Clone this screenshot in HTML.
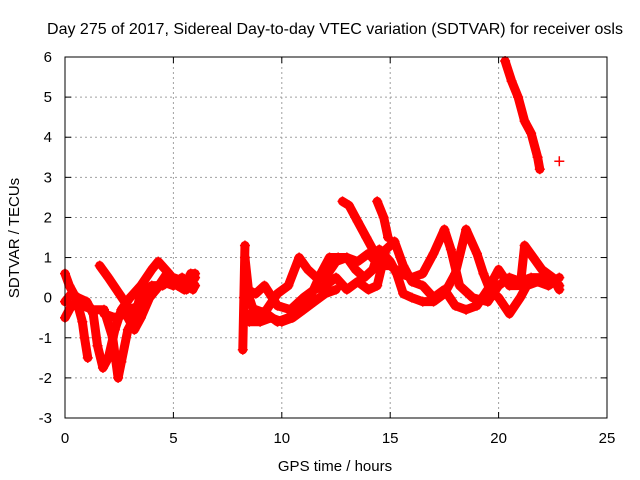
<!DOCTYPE html>
<html><head><meta charset="utf-8"><style>
body{margin:0;background:#fff}
svg{display:block;font-family:"Liberation Sans",sans-serif}
</style></head><body>
<svg id="chart" width="640" height="480">
<text x="335" y="34" font-size="16" text-anchor="middle">Day 275 of 2017, Sidereal Day-to-day VTEC variation (SDTVAR) for receiver osls</text>
<text x="335" y="471" font-size="15" text-anchor="middle">GPS time / hours</text>
<text x="19" y="238" font-size="15" text-anchor="middle" transform="rotate(-90 19 238)">SDTVAR / TECUs</text>
<g id="grid"></g><g id="axes"></g><g id="data"></g>
<rect x="65" y="57" width="542" height="361" fill="none" stroke="#000" stroke-width="1"/>
</svg>
<script>
const xTicks=[0,5,10,15,20,25];
const yTicks=[-3,-2,-1,0,1,2,3,4,5,6];
const trace1=[[0,0.6],[0.2,0.3],[0.4,0.1],[0.6,-0.2],[0.8,-0.6],[0.9,-1.0],[1.05,-1.5]];
const trace2=[[0,-0.1],[0.3,0.1],[0.6,0.0],[1.0,-0.1],[1.3,-0.4],[1.5,-1.2],[1.75,-1.75],[2.0,-1.5],[2.3,-0.8],[2.6,-0.3],[3.0,0.0],[3.5,0.3],[4.0,0.7],[4.3,0.9],[4.8,0.6],[5.2,0.3],[5.6,0.2],[6.0,0.5]];
const trace3=[[0,-0.5],[0.3,-0.2],[0.8,-0.2],[1.3,-0.3],[1.8,-0.3],[2.2,-1.0],[2.45,-2.0],[2.6,-1.6],[2.9,-0.8],[3.2,-0.5],[3.5,0.1],[4.0,0.3],[4.5,0.3],[5,0.5],[5.5,0.4],[6.0,0.3]];
const trace4=[[1.6,0.8],[2.0,0.5],[2.5,0.1],[3.0,-0.3],[3.4,-0.2],[3.8,0.0],[4.2,0.2],[4.7,0.6],[5.2,0.3],[5.5,0.2],[5.8,0.6],[6.0,0.6]];
const trace5=[[1.8,-0.4],[2.3,-0.5],[2.8,-0.4],[3.2,-0.8],[3.5,-0.5],[3.9,0.0],[4.5,0.4],[5.0,0.3],[5.4,0.5],[5.9,0.2]];
const trace6=[[8.2,-1.3],[8.25,0],[8.3,1.3]];
const trace7=[[8.3,1.0],[8.5,0.0],[8.8,-0.5],[9.3,-0.3],[9.8,0.1],[10.3,0.3],[10.8,1.0],[11.2,0.7],[11.6,0.5],[12.0,0.5],[12.5,0.9],[13.0,1.0],[13.5,0.9],[14.0,1.1],[14.5,0.8],[15.0,0.8],[15.5,0.6],[16.0,0.5],[16.5,0.6],[17.0,1.1],[17.5,1.7],[17.8,1.2],[18.2,0.3],[18.8,0.0],[19.5,-0.1],[20.0,0.3],[20.5,0.5],[21.0,0.4],[21.5,0.5],[22.0,0.5],[22.5,0.4],[22.8,0.3]];
const trace8=[[8.3,-0.5],[8.8,-0.3],[9.3,-0.4],[9.8,-0.6],[10.3,-0.5],[10.8,-0.3],[11.3,0.0],[11.8,0.6],[12.2,1.0],[12.6,1.0],[13.0,1.0],[13.4,0.7],[13.8,0.5],[14.2,0.7],[14.5,1.2],[15.0,0.9],[15.3,0.6],[15.6,0.1],[16.0,0.0],[16.5,-0.1],[17.0,-0.1],[17.5,0.1],[18.0,0.6],[18.5,1.7],[19.0,1.1],[19.3,0.6],[19.6,0.2],[20.0,0.0],[20.5,-0.4],[21.0,0.0],[21.3,0.3],[21.8,0.4],[22.3,0.3],[22.8,0.5]];
const trace9=[[8.4,0.2],[8.8,0.1],[9.2,0.3],[9.8,-0.2],[10.4,-0.3],[11.0,0.0],[11.5,0.2],[12.0,0.3],[12.5,0.5],[13.0,0.2],[13.5,0.4],[14.0,0.2],[14.4,0.3],[14.8,1.2],[15.2,1.4],[15.6,0.8],[16.0,0.4],[16.5,0.3],[17.0,0.0],[17.5,0.2],[18.0,-0.2],[18.5,-0.3],[19.0,-0.2],[19.5,0.2],[20.0,0.7],[20.5,0.3],[21.0,0.3],[21.2,1.3],[21.6,1.0],[22.0,0.7],[22.5,0.5],[22.8,0.2]];
const trace10=[[8.5,-0.6],[9,-0.6],[9.5,-0.5],[10.0,-0.6],[10.5,-0.5],[11,-0.3],[11.5,-0.1],[12,0.1],[12.5,0.2]];
const trace11=[[12.8,2.4],[13.1,2.3],[13.5,1.9],[13.9,1.5],[14.2,1.2]];
const trace12=[[14.4,2.4],[14.7,2.0],[14.9,1.5]];
const trace13=[[20.3,5.9],[20.6,5.4],[20.9,5.0],[21.2,4.4],[21.5,4.1],[21.8,3.5],[21.9,3.2]];
const trace14=[[22.8,3.4]];
const traces=[trace1,trace2,trace3,trace4,trace5,trace6,trace7,trace8,trace9,trace10,trace11,trace12,trace13,trace14];

const X0=65,X1=607,Y0=418,Y1=57;
const xs=t=>X0+(t-0)/(25-0)*(X1-X0);
const ys=v=>Y0-(v+3)/(6+3)*(Y0-Y1);
const NS='http://www.w3.org/2000/svg';
const mk=(tag,attrs,parent)=>{const e=document.createElementNS(NS,tag);for(const k in attrs)e.setAttribute(k,attrs[k]);parent.appendChild(e);return e;};
const grid=document.getElementById('grid'),axes=document.getElementById('axes'),data=document.getElementById('data');
xTicks.forEach(t=>{
  const x=xs(t);
  if(t>0&&t<25){const g=mk('line',{x1:x,x2:x,y1:Y1,y2:Y0,stroke:'#a0a0a0','stroke-dasharray':'2,3'},grid);
  
  }
  mk('line',{x1:x,x2:x,y1:Y0,y2:Y0-6,stroke:'#000'},axes);
  mk('line',{x1:x,x2:x,y1:Y1,y2:Y1+6,stroke:'#000'},axes);
  const l=mk('text',{x:x,y:443,'font-size':15,'text-anchor':'middle'},axes);l.textContent=t;
  
  
});
yTicks.forEach(v=>{
  const y=ys(v);
  if(v>-3&&v<6){const g=mk('line',{x1:X0,x2:X1,y1:y,y2:y,stroke:'#a0a0a0','stroke-dasharray':'2,3'},grid);
  
  }
  mk('line',{x1:X0,x2:X0+6,y1:y,y2:y,stroke:'#000'},axes);
  mk('line',{x1:X1,x2:X1-6,y1:y,y2:y,stroke:'#000'},axes);
  const l=mk('text',{x:52,y:y+5,'font-size':15,'text-anchor':'end'},axes);l.textContent=v;
  
  
});
traces.forEach(tr=>{
  if(tr.length>1){
    const p=mk('polyline',{points:tr.map(d=>xs(d[0])+','+ys(d[1])).join(' '),fill:'none',stroke:'#ff0000','stroke-width':9,'stroke-linejoin':'round','stroke-linecap':'round'},data);
    
    
  }
  tr.forEach(d=>{
    const x=xs(d[0]),y=ys(d[1]);
    const m=mk('path',{d:`M${x-5},${y}H${x+5}M${x},${y-5}V${y+5}`,stroke:'#ff0000','stroke-width':1.5},data);
    
    
  });
});
</script>
</body></html>
